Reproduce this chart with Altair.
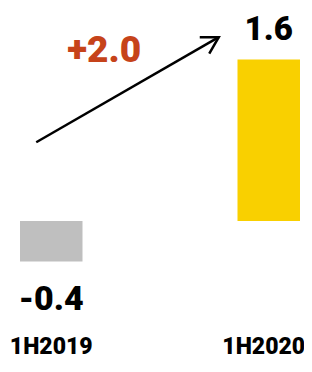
import altair as alt
import pandas as pd

categories = ["1H2019", "1H2020"]
values = [-0.4, 1.6]
value_labels = ["-0.4", "1.6"]
bar_colors = ["#BFBFBF", "#F9D000"]
change_label = "+2.0"
arrow_from = 0.78
arrow_to = 1.82

FONT = "Roboto, Liberation Sans, sans-serif"

bars_df = pd.DataFrame({"cat": categories, "val": values, "lab": value_labels, "col": bar_colors})
arrow_df = pd.DataFrame({"c1": [categories[0]], "c2": [categories[1]], "y1": [arrow_from], "y2": [arrow_to]})
head_df = pd.DataFrame({"cat": [categories[1]], "val": [arrow_to]})
change_df = pd.DataFrame({"cat": [categories[0]], "val": [1.574], "lab": [change_label]})

xs = alt.Scale(domain=categories, range=[12, 292], paddingInner=0.7126, paddingOuter=0)
ys = alt.Scale(domain=[-1.396, 2.109], range=[354, 0], nice=False, zero=False)
X = lambda f: alt.X(f, type="nominal", scale=xs, axis=None)
Y = lambda f: alt.Y(f, type="quantitative", scale=ys, axis=None)

bars = alt.Chart(bars_df).mark_bar().encode(
    x=X("cat"), y=Y("val"), y2=alt.datum(0), color=alt.Color("col:N", scale=None)
)

pos_lab = alt.Chart(bars_df).transform_filter("datum.val > 0").mark_text(
    font=FONT, fontSize=33, fontWeight=900, baseline="alphabetic", dy=-19, color="black"
).encode(x=X("cat"), y=Y("val"), text="lab:N")

neg_lab = alt.Chart(bars_df).transform_filter("datum.val < 0").mark_text(
    font=FONT, fontSize=34, fontWeight=900, baseline="alphabetic", dy=49, color="black"
).encode(x=X("cat"), y=Y("val"), text="lab:N")

cat_lab1 = alt.Chart(bars_df).transform_filter(alt.datum.cat == categories[0]).mark_text(
    font=FONT, fontSize=23, fontWeight=900, baseline="alphabetic", color="black"
).encode(x=X("cat"), y=alt.value(346), text="cat:N")

cat_lab2 = alt.Chart(bars_df).transform_filter(alt.datum.cat == categories[1]).mark_text(
    font=FONT, fontSize=23, fontWeight=900, baseline="alphabetic", color="black", xOffset=-5
).encode(x=X("cat"), y=alt.value(346), text="cat:N")

arrow = alt.Chart(arrow_df).mark_rule(
    color="black", strokeWidth=2.5, xOffset=-15, x2Offset=-50
).encode(x=X("c1"), x2="c2:N", y=Y("y1"), y2="y2:Q")

head = alt.Chart(head_df).mark_point(
    shape="M-0.866,-0.5L0,0L-0.866,0.5", filled=False, stroke="black",
    strokeWidth=2.5, size=1444, angle=330, xOffset=-50, opacity=1
).encode(x=X("cat"), y=Y("val"))

change = alt.Chart(change_df).mark_text(
    font=FONT, fontSize=37, fontWeight=900, baseline="alphabetic", xOffset=53, color="#C6431A"
).encode(x=X("cat"), y=Y("val"), text="lab:N")

chart = alt.layer(bars, pos_lab, neg_lab, cat_lab1, cat_lab2, arrow, head, change).properties(
    width=296, height=354, autosize=alt.AutoSizeParams(type="none"), padding=0
).configure_view(stroke=None)

chart.save("out.html", embed_options={"renderer": "svg", "actions": False})
